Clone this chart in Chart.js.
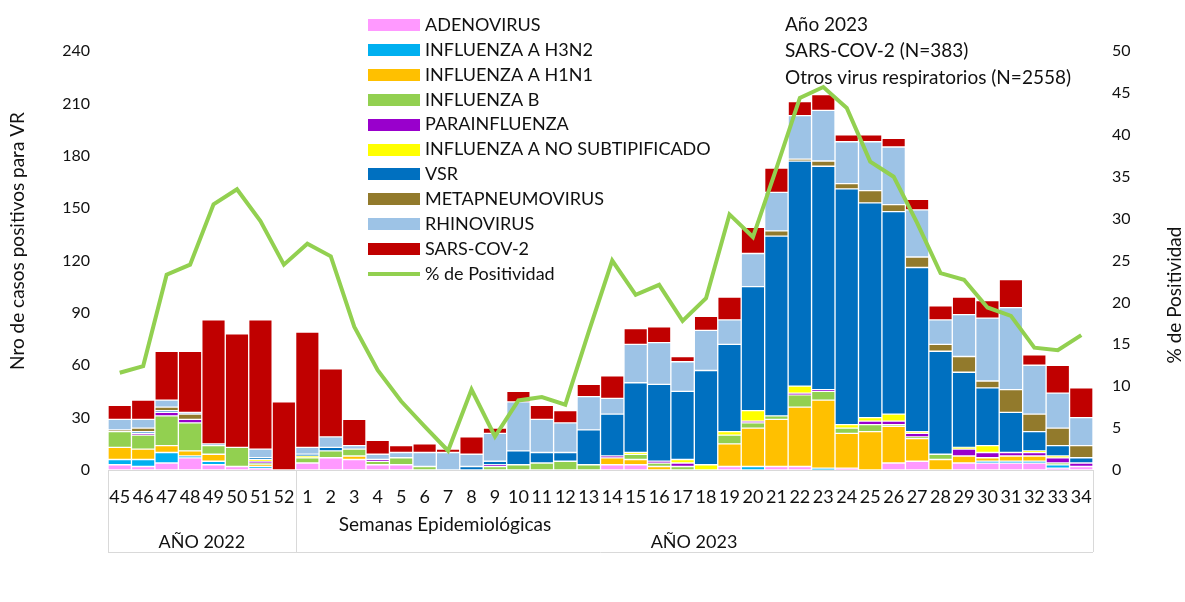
<!DOCTYPE html>
<html>
<head>
<meta charset="utf-8">
<script src="https://cdn.jsdelivr.net/npm/chart.js@4.4.1/dist/chart.umd.min.js"></script>
<style>
  html, body { margin: 0; padding: 0; background: #fff; }
  #wrap { width: 1185px; height: 602px; position: relative; }
</style>
</head>
<body>
<div id="wrap"><canvas id="c" width="1185" height="602"></canvas></div>
<script>
const weeks = ['45','46','47','48','49','50','51','52',
  '1','2','3','4','5','6','7','8','9','10','11','12','13','14','15','16','17',
  '18','19','20','21','22','23','24','25','26','27','28','29','30','31','32','33','34'];

const adenovirus = [3,2,4,7,3,2,1,0, 4,7,6,3,3,0,0,0,0,0,0,0,0,3,3,0,0,0,2,0,2,2,0,1,0,4,5,0,4,4,4,4,1,2];
const h3n2       = [3,4,6,1,2,0,1,0, 0,0,0,0,0,0,0,0,0,0,0,0,0,0,0,0,0,0,0,2,0,0,1,0,0,0,0,0,0,1,1,1,2,0];
const h1n1       = [7,6,4,3,4,0,1,0, 0,0,2,0,0,0,0,0,0,0,0,0,0,4,3,2,0,0,13,22,27,34,39,20,22,21,13,6,4,2,3,3,0,0];
const fluB       = [9,8,17,16,5,11,1,0, 3,4,4,2,4,2,0,0,2,3,4,5,3,0,3,2,2,0,5,3,2,7,5,3,4,1,1,3,0,0,0,0,1,0];
const parainf    = [0,1,2,2,0,0,1,0, 0,0,0,1,0,0,0,0,1,0,0,0,0,1,0,1,2,0,0,1,0,1,1,0,2,2,2,0,4,3,2,2,3,2];
const noSubtip   = [0,0,0,0,0,0,1,0, 1,0,0,0,0,0,0,0,0,0,0,0,0,0,1,0,2,3,2,6,0,4,0,2,2,4,1,0,1,4,0,1,1,0];
const vsr        = [0,1,1,0,0,0,1,0, 1,2,0,0,0,0,0,2,2,8,6,5,20,24,40,44,39,54,50,71,103,129,128,135,123,116,94,59,43,33,23,11,6,3];
const metapneumo = [1,2,2,3,0,0,0,0, 0,0,0,0,0,0,0,0,0,0,0,0,0,0,0,0,0,0,0,0,3,1,3,3,7,4,6,4,9,4,13,10,10,7];
const rhinovirus = [6,5,4,1,1,0,5,0, 4,6,2,3,3,8,10,7,16,28,19,17,19,9,22,24,17,23,14,19,22,25,29,24,28,33,27,14,24,36,47,28,20,16];
const sarscov2   = [8,11,28,35,71,65,74,39, 66,39,15,8,4,5,2,10,3,6,8,7,7,13,9,9,3,8,13,15,14,8,9,4,4,5,6,8,10,10,16,6,16,17];
const positividad = [11.6,12.4,23.3,24.5,31.7,33.5,29.7,24.5,
  27.0,25.5,17.1,11.9,8.2,5.2,2.3,9.6,4.0,8.3,8.7,7.8,16.5,25.0,20.9,22.1,17.8,
  20.5,30.5,27.8,36.0,44.4,45.7,43.2,36.8,35.0,29.5,23.5,22.7,19.4,18.4,14.6,14.3,16.1];

const leftTicks = [0,30,60,90,120,150,180,210,240];
const rightTicks = [0,5,10,15,20,25,30,35,40,45,50];

const series = [
  ['ADENOVIRUS', adenovirus, '#FF99FF'],
  ['INFLUENZA A H3N2', h3n2, '#00B0F0'],
  ['INFLUENZA A H1N1', h1n1, '#FFC000'],
  ['INFLUENZA B', fluB, '#92D050'],
  ['PARAINFLUENZA', parainf, '#9900CC'],
  ['INFLUENZA A NO SUBTIPIFICADO', noSubtip, '#FFFF00'],
  ['VSR', vsr, '#0070C0'],
  ['METAPNEUMOVIRUS', metapneumo, '#927A2C'],
  ['RHINOVIRUS', rhinovirus, '#9DC3E6'],
  ['SARS-COV-2', sarscov2, '#C00000']
];
const lineLabel = '% de Positividad';
const lineColor = '#92D050';

const FONT = 'Lato, "Open Sans", sans-serif';
const TXT = '#111111';

const datasets = series.map(([label, data, color]) => ({
  type: 'bar', label, data, backgroundColor: color,
  borderColor: 'rgba(255,255,255,0.28)', borderWidth: 1, borderSkipped: false,
  stack: 's', yAxisID: 'y', order: 1,
  barPercentage: 1.0, categoryPercentage: 1.0
}));
datasets.push({
  type: 'line', label: lineLabel, data: positividad, borderColor: lineColor,
  backgroundColor: lineColor, borderWidth: 4, pointRadius: 0, tension: 0,
  yAxisID: 'y1', order: 0
});

const extras = {
  id: 'extras',
  afterDraw(chart) {
    const ctx = chart.ctx;
    const xs = chart.scales.x;
    ctx.save();
    ctx.strokeStyle = '#D9D9D9';
    ctx.lineWidth = 1;
    const top = chart.chartArea.bottom;
    const bottom = 552;
    const edgeL = xs.left, edgeR = xs.right;
    const per = (edgeR - edgeL) / weeks.length;
    const split = edgeL + per * 8;
    ctx.beginPath();
    [edgeL, split, edgeR].forEach(x => { ctx.moveTo(Math.round(x)+0.5, top); ctx.lineTo(Math.round(x)+0.5, bottom); });
    ctx.moveTo(edgeL, bottom + 0.5); ctx.lineTo(edgeR, bottom + 0.5);
    ctx.stroke();

    ctx.fillStyle = TXT;
    ctx.textBaseline = 'middle';
    ctx.textAlign = 'center';
    ctx.font = '19px ' + FONT;
    ctx.fillText('Semanas Epidemiológicas', 445, 525);
    ctx.font = '18px ' + FONT;
    ctx.fillText('AÑO 2022', (edgeL + split) / 2, 542);
    ctx.fillText('AÑO 2023', 694, 542);

    ctx.font = '19px ' + FONT;
    ctx.save(); ctx.translate(18, 241); ctx.rotate(-Math.PI/2);
    ctx.fillText('Nro de casos positivos para VR', 0, 0); ctx.restore();
    ctx.save(); ctx.translate(1175, 295); ctx.rotate(-Math.PI/2);
    ctx.fillText('% de Positividad', 0, 0); ctx.restore();

    ctx.textAlign = 'left';
    ctx.font = '18px ' + FONT;
    const rowY = i => 25 + 24.9 * i;
    series.forEach(([label, , color], i) => {
      const y = rowY(i);
      ctx.fillStyle = color;
      ctx.fillRect(368, Math.round(y - 6), 52, 12);
      ctx.fillStyle = TXT;
      ctx.fillText(label, 425, y);
    });
    const ly = rowY(series.length);
    ctx.strokeStyle = lineColor; ctx.lineWidth = 4;
    ctx.beginPath(); ctx.moveTo(368, ly); ctx.lineTo(420, ly); ctx.stroke();
    ctx.fillStyle = TXT;
    ctx.fillText(lineLabel, 425, ly);

    ctx.font = '19px ' + FONT;
    ctx.fillText('Año 2023', 785, 25);
    ctx.fillText('SARS-COV-2 (N=383)', 785, 51);
    ctx.fillText('Otros virus respiratorios (N=2558)', 785, 78);
    ctx.restore();
  }
};

new Chart(document.getElementById('c'), {
  data: { labels: weeks, datasets },
  options: {
    responsive: false, animation: false, devicePixelRatio: 1,
    layout: { padding: { top: 51, left: 0, right: 0, bottom: 0 } },
    plugins: { legend: { display: false }, tooltip: { enabled: false } },
    scales: {
      x: {
        stacked: true, offset: true,
        grid: { display: false, drawTicks: false },
        border: { display: true, color: '#D9D9D9' },
        ticks: { font: { family: FONT, size: 18 }, color: TXT, maxRotation: 0, minRotation: 0, autoSkip: false, padding: 16 },
        afterFit(s) { s.height = 132; }
      },
      y: {
        stacked: true, min: 0, max: 240,
        grid: { display: false, drawTicks: false },
        border: { display: false },
        afterBuildTicks(s) { s.ticks = leftTicks.map(v => ({ value: v })); },
        ticks: { font: { family: FONT, size: 16 }, color: TXT, padding: 18 },
        afterFit(s) { s.width = 108; }
      },
      y1: {
        position: 'right', min: 0, max: 50,
        grid: { display: false, drawTicks: false },
        border: { display: false },
        afterBuildTicks(s) { s.ticks = rightTicks.map(v => ({ value: v })); },
        ticks: { font: { family: FONT, size: 16 }, color: TXT, padding: 19 },
        afterFit(s) { s.width = 92; }
      }
    }
  },
  plugins: [extras]
});
</script>
</body>
</html>
